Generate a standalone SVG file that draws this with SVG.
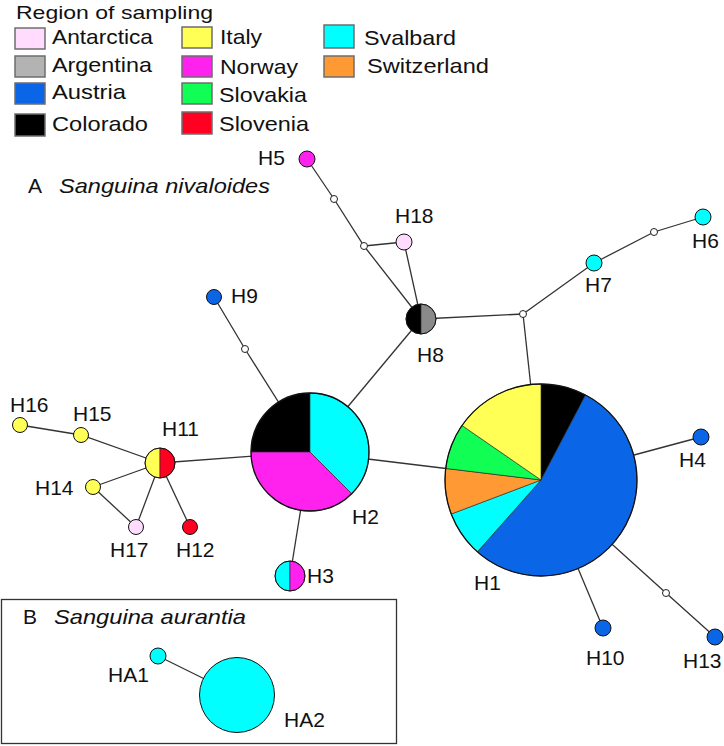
<svg xmlns="http://www.w3.org/2000/svg" width="724" height="746" viewBox="0 0 724 746">
<style>
text{font-family:"Liberation Sans",Arial,sans-serif;font-size:21px;fill:#111}
.lg{font-size:21px}
.sw{stroke:#6e6e6e;stroke-width:1.5}
.ln{stroke:#333;stroke-width:1.3;fill:none}
.nd{stroke:#111;stroke-width:1}
.sl{stroke:#222;stroke-width:0.6}
.mv{fill:#fff;stroke:#222;stroke-width:1}
.it{font-style:italic}
.ant{fill:#ffdcfd}.arg{fill:#b3b3b3}.aus{fill:#0a66e6}.col{fill:#000}
.ita{fill:#ffff55}.nor{fill:#ff22ee}.slk{fill:#11ff55}.sln{fill:#ff0022}
.sva{fill:#00ffff}.swi{fill:#ff9933}.grb{fill:#8a8a8a}
</style>
<g id="legend">
<text x="16" y="19" style="font-size:19px" textLength="197" lengthAdjust="spacingAndGlyphs">Region of sampling</text>
<rect class="sw ant" x="15" y="28" width="30" height="21"/>
<text class="lg" x="52" y="44" textLength="101" lengthAdjust="spacingAndGlyphs">Antarctica</text>
<rect class="sw arg" x="15" y="56" width="30" height="21"/>
<text class="lg" x="52" y="72" textLength="100" lengthAdjust="spacingAndGlyphs">Argentina</text>
<rect class="sw aus" x="15" y="83" width="30" height="21"/>
<text class="lg" x="52" y="99" textLength="74" lengthAdjust="spacingAndGlyphs">Austria</text>
<rect class="sw col" x="15" y="114" width="30" height="22"/>
<text class="lg" x="52" y="131" textLength="96" lengthAdjust="spacingAndGlyphs">Colorado</text>
<rect class="sw ita" x="182" y="27" width="30" height="21"/>
<text class="lg" x="220" y="44" textLength="42" lengthAdjust="spacingAndGlyphs">Italy</text>
<rect class="sw nor" x="182" y="56" width="30" height="21"/>
<text class="lg" x="220" y="74" textLength="78" lengthAdjust="spacingAndGlyphs">Norway</text>
<rect class="sw slk" x="182" y="83" width="30" height="21"/>
<text class="lg" x="219" y="102" textLength="88" lengthAdjust="spacingAndGlyphs">Slovakia</text>
<rect class="sw sln" x="182" y="112" width="30" height="22"/>
<text class="lg" x="219" y="131" textLength="90" lengthAdjust="spacingAndGlyphs">Slovenia</text>
<rect class="sw sva" x="324" y="25" width="30" height="23"/>
<text class="lg" x="364" y="45" textLength="92" lengthAdjust="spacingAndGlyphs">Svalbard</text>
<rect class="sw swi" x="324" y="56" width="30" height="21"/>
<text class="lg" x="367" y="73" textLength="122" lengthAdjust="spacingAndGlyphs">Switzerland</text>
</g>
<g id="titleA">
<text x="28" y="193">A</text>
<text class="it" x="59" y="193" textLength="211" lengthAdjust="spacingAndGlyphs">Sanguina nivaloides</text>
</g>
<g id="connectors">
<polyline class="ln" points="307,159 334,199 364,246 421,319"/>
<line class="ln" x1="364" y1="246" x2="404" y2="242"/>
<line class="ln" x1="404" y1="242" x2="421" y2="319"/>
<line class="ln" x1="421" y1="319" x2="523" y2="314"/>
<polyline class="ln" points="523,314 594,263 654,232 703,217"/>
<line class="ln" x1="523" y1="314" x2="541" y2="480"/>
<line class="ln" x1="421" y1="319" x2="310" y2="452"/>
<polyline class="ln" points="214,297 245,349 310,452"/>
<line class="ln" x1="310" y1="452" x2="541" y2="480"/>
<line class="ln" x1="310" y1="452" x2="290" y2="576"/>
<line class="ln" x1="310" y1="452" x2="160" y2="463"/>
<polyline class="ln" points="160,463 81,435 20,425"/>
<line class="ln" x1="160" y1="463" x2="93" y2="487"/>
<line class="ln" x1="93" y1="487" x2="136" y2="527"/>
<line class="ln" x1="160" y1="463" x2="136" y2="527"/>
<line class="ln" x1="160" y1="463" x2="190" y2="527"/>
<line class="ln" x1="541" y1="480" x2="701" y2="437"/>
<line class="ln" x1="541" y1="480" x2="603" y2="628"/>
<polyline class="ln" points="541,480 666,593 715,637"/>
<line class="ln" x1="158" y1="656" x2="237" y2="695"/>
</g>
<g id="mv">
<circle class="mv" cx="334" cy="199" r="3.5"/>
<circle class="mv" cx="364" cy="246" r="3.5"/>
<circle class="mv" cx="523" cy="314" r="3.5"/>
<circle class="mv" cx="654" cy="232" r="3.5"/>
<circle class="mv" cx="245" cy="349" r="3.5"/>
<circle class="mv" cx="666" cy="593" r="3.5"/>
</g>
<g id="H1">
<path class="sl col" d="M541,480 L541,384 A96,96 0 0 1 585.61,394.99 Z"/>
<path class="sl aus" d="M541,480 L585.61,394.99 A96,96 0 1 1 477.33,551.86 Z"/>
<path class="sl sva" d="M541,480 L477.33,551.86 A96,96 0 0 1 451.24,514.04 Z"/>
<path class="sl swi" d="M541,480 L451.24,514.04 A96,96 0 0 1 445.70,468.43 Z"/>
<path class="sl slk" d="M541,480 L445.70,468.43 A96,96 0 0 1 461.99,425.46 Z"/>
<path class="sl ita" d="M541,480 L461.99,425.46 A96,96 0 0 1 541,384 Z"/>
<circle cx="541" cy="480" r="96" fill="none" stroke="#111" stroke-width="1.3"/>
<text x="474" y="590">H1</text>
</g>
<g id="H2">
<path class="sl col" d="M310,452 L251,452 A59,59 0 0 1 310,393 Z"/>
<path class="sl sva" d="M310,452 L310,393 A59,59 0 0 1 351.72,493.72 Z"/>
<path class="sl nor" d="M310,452 L351.72,493.72 A59,59 0 0 1 251,452 Z"/>
<circle cx="310" cy="452" r="59" fill="none" stroke="#111" stroke-width="1.3"/>
<text x="352" y="524">H2</text>
</g>
<g id="H3">
<path class="sl sva" d="M290,561 A15,15 0 0 0 290,591 Z"/>
<path class="sl nor" d="M290,561 A15,15 0 0 1 290,591 Z"/>
<circle cx="290" cy="576" r="15" fill="none" stroke="#111" stroke-width="1"/>
<text x="307" y="583">H3</text>
</g>
<g id="H8">
<path class="sl col" d="M421,304 A15,15 0 0 0 421,334 Z"/>
<path class="sl grb" d="M421,304 A15,15 0 0 1 421,334 Z"/>
<circle cx="421" cy="319" r="15" fill="none" stroke="#111" stroke-width="1"/>
<text x="417" y="362">H8</text>
</g>
<g id="H11">
<path class="sl ita" d="M160,448 A15,15 0 0 0 160,478 Z"/>
<path class="sl sln" d="M160,448 A15,15 0 0 1 160,478 Z"/>
<circle cx="160" cy="463" r="15" fill="none" stroke="#111" stroke-width="1"/>
<text x="162" y="436">H11</text>
</g>
<g id="H4"><circle class="nd aus" cx="701" cy="437" r="8"/><text x="679" y="467">H4</text></g>
<g id="H5"><circle class="nd nor" cx="307" cy="159" r="8"/><text x="258" y="165">H5</text></g>
<g id="H6"><circle class="nd sva" cx="703" cy="217" r="8"/><text x="692" y="248">H6</text></g>
<g id="H7"><circle class="nd sva" cx="594" cy="263" r="8"/><text x="585" y="292">H7</text></g>
<g id="H9"><circle class="nd aus" cx="214" cy="297" r="7.5"/><text x="231" y="303">H9</text></g>
<g id="H10"><circle class="nd aus" cx="603" cy="628" r="8"/><text x="586" y="665">H10</text></g>
<g id="H12"><circle class="nd sln" cx="190" cy="527" r="7.5"/><text x="176" y="557">H12</text></g>
<g id="H13"><circle class="nd aus" cx="715" cy="637" r="8"/><text x="683" y="668">H13</text></g>
<g id="H14"><circle class="nd ita" cx="93" cy="487" r="7.5"/><text x="35" y="495">H14</text></g>
<g id="H15"><circle class="nd ita" cx="81" cy="435" r="7.5"/><text x="73" y="421">H15</text></g>
<g id="H16"><circle class="nd ita" cx="20" cy="425" r="7.5"/><text x="10" y="412">H16</text></g>
<g id="H17"><circle class="nd ant" cx="136" cy="527" r="7.5"/><text x="110" y="557">H17</text></g>
<g id="H18"><circle class="nd ant" cx="404" cy="242" r="8"/><text x="395" y="223">H18</text></g>
<g id="panelB">
<rect x="1.5" y="599.5" width="395" height="144" fill="none" stroke="#333" stroke-width="1.3"/>
<text x="23" y="624">B</text>
<text class="it" x="54" y="624" textLength="192" lengthAdjust="spacingAndGlyphs">Sanguina aurantia</text>
</g>
<g id="HA1"><circle class="nd sva" cx="158" cy="656" r="8"/><text x="108" y="682">HA1</text></g>
<g id="HA2"><circle class="nd sva" cx="237" cy="695" r="37.5"/><text x="284" y="727">HA2</text></g>
</svg>
